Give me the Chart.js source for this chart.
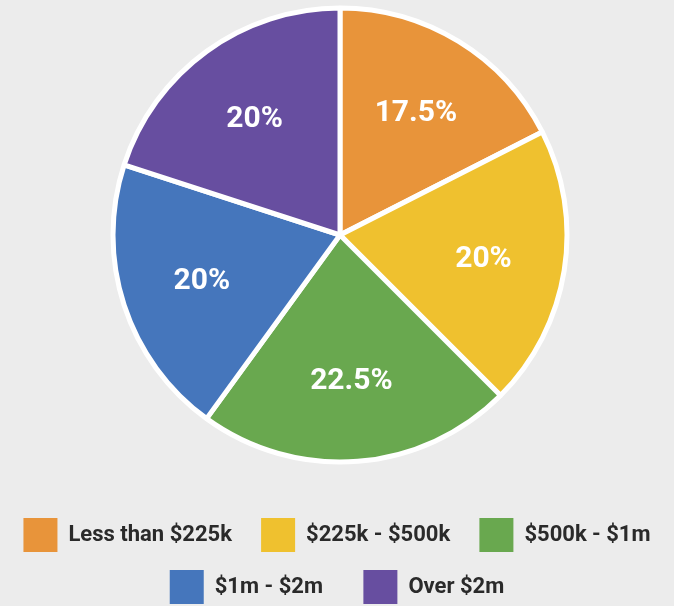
<!DOCTYPE html>
<html>
<head>
<meta charset="utf-8">
<script src="https://cdn.jsdelivr.net/npm/chart.js@4/dist/chart.umd.min.js"></script>
<style>
  html, body { margin: 0; padding: 0; background: #ececec; }
  #wrap { width: 674px; height: 606px; position: relative; }
</style>
</head>
<body>
<div id="wrap"><canvas id="c" width="674" height="606"></canvas></div>
<script>
const categories = ["Less than $225k", "$225k - $500k", "$500k - $1m", "$1m - $2m", "Over $2m"];
const shares = [17.5, 20, 22.5, 20, 20];
const sliceLabels = ["17.5%", "20%", "22.5%", "20%", "20%"];
const colors = ["#E8943A", "#EFC12F", "#69A84F", "#4576BC", "#674EA0"];

const labelPlugin = {
  id: 'sliceLabels',
  afterLayout(chart) {
    // place the pie centre where the reference has it
    chart.chartArea.top -= 30;
    chart.chartArea.height += 30;
    chart.chartArea.left += 6;
    chart.chartArea.width -= 6;
  },
  afterDatasetsDraw(chart) {
    const ctx = chart.ctx;
    const meta = chart.getDatasetMeta(0);
    ctx.save();
    ctx.fillStyle = '#ffffff';
    ctx.font = 'bold 30px Roboto';
    ctx.textAlign = 'center';
    ctx.textBaseline = 'middle';
    meta.data.forEach((arc, i) => {
      const p = arc.getProps(['x', 'y', 'startAngle', 'endAngle', 'outerRadius'], true);
      const mid = (p.startAngle + p.endAngle) / 2;
      const r = p.outerRadius * 0.64;
      ctx.fillText(sliceLabels[i], p.x + Math.cos(mid) * r, p.y + Math.sin(mid) * r + 2);
    });
    ctx.restore();
  }
};

const spacers = ['\u2002', '\u2002', '', '\u2003', ''];

new Chart(document.getElementById('c'), {
  type: 'pie',
  data: {
    labels: categories,
    datasets: [{
      data: shares,
      backgroundColor: colors,
      borderColor: '#ffffff',
      borderWidth: 5,
      hoverOffset: 0
    }]
  },
  options: {
    responsive: false,
    animation: false,
    radius: 227,
    layout: { padding: { top: 0, bottom: -8, left: 0, right: 0 } },
    plugins: {
      tooltip: { enabled: false },
      legend: {
        position: 'bottom',
        labels: {
          boxWidth: 34,
          boxHeight: 34,
          padding: 18,
          color: '#2a2a2a',
          font: { family: 'Roboto', size: 22, weight: 'bold' },
          generateLabels(chart) {
            const items = Chart.controllers.pie.overrides.plugins.legend.labels.generateLabels(chart);
            return items.map((it, i) => Object.assign(it, {
              text: it.text + spacers[i],
              lineWidth: 0,
              strokeStyle: colors[i]
            }));
          }
        }
      }
    }
  },
  plugins: [labelPlugin]
});
</script>
</body>
</html>
